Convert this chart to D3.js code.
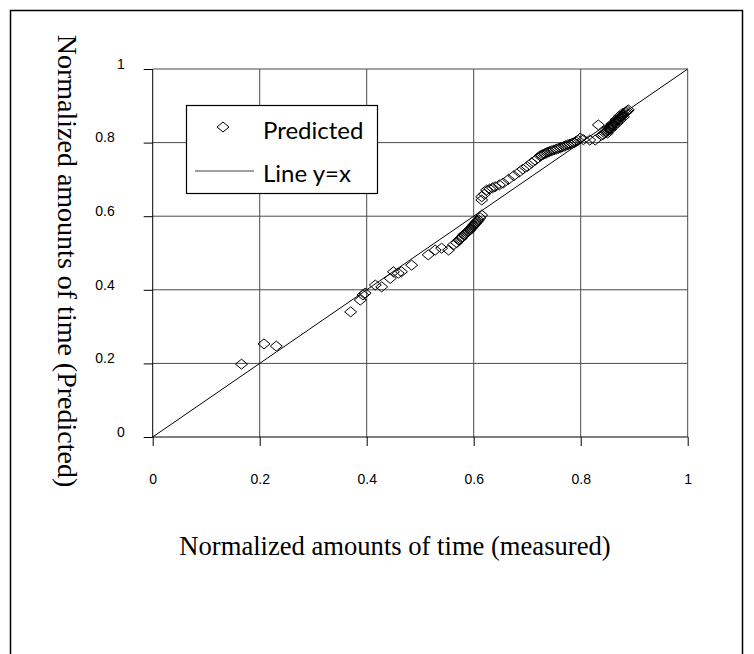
<!DOCTYPE html>
<html>
<head>
<meta charset="utf-8">
<script src="https://cdn.jsdelivr.net/npm/d3@7"></script>
<style>
  body { margin: 0; background: #fff; }
  svg { display: block; }
</style>
</head>
<body>
<div id="chart"></div>
<script>
// data: [measured, predicted] //
const predictedData = [
  [0.166, 0.198], [0.208, 0.253], [0.231, 0.247], [0.370, 0.340],
  [0.388, 0.372], [0.393, 0.386], [0.397, 0.391],
  [0.416, 0.413], [0.428, 0.408], [0.444, 0.431], [0.450, 0.449],
  [0.459, 0.445], [0.465, 0.449], [0.484, 0.467],
  [0.515, 0.495], [0.528, 0.508], [0.540, 0.513], [0.553, 0.508],
  [0.562, 0.522], [0.568, 0.528],
  [0.572, 0.535], [0.575, 0.538], [0.577, 0.541], [0.579, 0.545],
  [0.581, 0.549], [0.583, 0.550], [0.585, 0.553], [0.587, 0.556],
  [0.589, 0.558], [0.591, 0.560], [0.593, 0.563], [0.594, 0.566],
  [0.596, 0.568], [0.597, 0.571], [0.599, 0.573], [0.600, 0.576],
  [0.601, 0.578], [0.603, 0.580], [0.604, 0.582], [0.605, 0.584],
  [0.607, 0.587], [0.609, 0.590], [0.612, 0.596], [0.615, 0.603],
  [0.615, 0.644], [0.615, 0.653], [0.620, 0.660], [0.624, 0.671],
  [0.630, 0.674], [0.635, 0.677], [0.640, 0.680], [0.648, 0.685],
  [0.655, 0.690], [0.665, 0.700], [0.675, 0.710], [0.685, 0.720],
  [0.692, 0.728], [0.700, 0.735], [0.708, 0.745], [0.715, 0.752],
  [0.720, 0.758], [0.724, 0.764], [0.727, 0.766], [0.730, 0.768],
  [0.733, 0.770], [0.736, 0.772], [0.739, 0.774], [0.742, 0.776],
  [0.746, 0.778], [0.750, 0.780], [0.754, 0.782], [0.758, 0.784],
  [0.762, 0.786], [0.765, 0.788], [0.769, 0.790], [0.772, 0.792],
  [0.776, 0.794], [0.780, 0.796], [0.784, 0.798], [0.788, 0.800],
  [0.791, 0.803], [0.795, 0.806], [0.799, 0.812], [0.805, 0.808],
  [0.817, 0.807], [0.827, 0.807], [0.833, 0.848], [0.839, 0.820],
  [0.842, 0.822], [0.845, 0.826], [0.847, 0.829], [0.849, 0.831],
  [0.851, 0.834], [0.853, 0.837], [0.855, 0.840], [0.856, 0.843],
  [0.858, 0.846], [0.860, 0.848], [0.862, 0.851], [0.864, 0.854],
  [0.865, 0.856], [0.867, 0.859], [0.869, 0.862], [0.871, 0.864],
  [0.873, 0.867], [0.875, 0.870], [0.877, 0.872], [0.879, 0.875],
  [0.881, 0.878], [0.883, 0.881], [0.885, 0.883], [0.887, 0.886],
  [0.889, 0.889], [0.850, 0.826], [0.856, 0.836], [0.862, 0.845],
  [0.868, 0.853], [0.874, 0.862], [0.880, 0.870], [0.852, 0.840],
  [0.858, 0.850], [0.866, 0.862], [0.872, 0.871], [0.878, 0.879]
];
const tickValues = [0, 0.2, 0.4, 0.6, 0.8, 1];
const tickLabels = ["0", "0.2", "0.4", "0.6", "0.8", "1"];
const legendLabels = ["Predicted", "Line y=x"];

///set dimensions//////////////////////////////////////////////////
const W = 754, H = 654;
const svg = d3.select("#chart").append("svg")
  .attr("width", W)
  .attr("height", H);

// outer frame
svg.append("rect")
  .attr("x", 10.5).attr("y", 10.5)
  .attr("width", 732).attr("height", 700)
  .attr("fill", "none")
  .attr("stroke", "#000")
  .attr("stroke-width", 1.5);

const x = d3.scaleLinear().domain([0, 1]).range([152.7, 687.7]);
const y = d3.scaleLinear().domain([0, 1]).range([437, 69]);

// gridlines
svg.append("g").selectAll("line")
  .data(tickValues.slice(1))
  .join("line")
  .attr("x1", d => x(d)).attr("x2", d => x(d))
  .attr("y1", y(0)).attr("y2", y(1))
  .attr("stroke", "#4a4a4a").attr("stroke-width", 1);

svg.append("g").selectAll("line")
  .data(tickValues.slice(1))
  .join("line")
  .attr("x1", x(0)).attr("x2", x(1))
  .attr("y1", d => y(d)).attr("y2", d => y(d))
  .attr("stroke", "#4a4a4a").attr("stroke-width", 1);

// Add X axis
const xAxis = svg.append("g")
  .attr("transform", `translate(0,${y(0)})`)
  .call(d3.axisBottom(x).tickValues(tickValues).tickSize(9).tickPadding(28)
    .tickFormat((d, i) => tickLabels[i]));
xAxis.select(".domain").attr("stroke", "#000").attr("d", `M${x(0)},0H${x(1)}`);
xAxis.selectAll(".tick line").attr("stroke", "#000");
xAxis.selectAll(".tick text")
  .attr("font-family", "'Liberation Sans', Arial, sans-serif")
  .attr("font-size", 14)
  .attr("fill", "#000");

// Add Y axis
const yAxis = svg.append("g")
  .attr("transform", `translate(${x(0)},0)`)
  .call(d3.axisLeft(y).tickValues(tickValues).tickSize(9).tickPadding(0)
    .tickFormat((d, i) => tickLabels[i]));
yAxis.select(".domain").attr("stroke", "#000").attr("d", `M0,${y(0)}V${y(1)}`);
yAxis.selectAll(".tick line").attr("stroke", "#000");
yAxis.selectAll(".tick text")
  .attr("font-family", "'Liberation Sans', Arial, sans-serif")
  .attr("font-size", 14)
  .attr("fill", "#000")
  .attr("x", (d, i) => tickLabels[i].length === 1 ? -28 : -38)
  .attr("dy", "-0.05em");

// line y = x
svg.append("line")
  .attr("x1", x(0)).attr("y1", y(0))
  .attr("x2", x(1)).attr("y2", y(1))
  .attr("stroke", "#000").attr("stroke-width", 1);

// diamond marker
function diamond(cx, cy) {
  return `M${cx},${cy - 5}L${cx + 6},${cy}L${cx},${cy + 5}L${cx - 6},${cy}Z`;
}

svg.append("g").selectAll("path")
  .data(predictedData)
  .join("path")
  .attr("d", d => diamond(x(d[0]), y(d[1])))
  .attr("fill", "none")
  .attr("stroke", "#000")
  .attr("stroke-width", 1);

// legend
const legend = svg.append("g");
legend.append("rect")
  .attr("x", 186.5).attr("y", 105.5)
  .attr("width", 191).attr("height", 88)
  .attr("fill", "#fff")
  .attr("stroke", "#000").attr("stroke-width", 1.2);
legend.append("path")
  .attr("d", diamond(223, 127))
  .attr("fill", "none").attr("stroke", "#000");
legend.append("line")
  .attr("x1", 195).attr("x2", 254)
  .attr("y1", 171).attr("y2", 171)
  .attr("stroke", "#808080").attr("stroke-width", 1.5);
legend.selectAll("text")
  .data(legendLabels)
  .join("text")
  .attr("x", 263)
  .attr("y", (d, i) => i === 0 ? 139 : 182)
  .attr("font-family", "Lato, 'Open Sans', sans-serif")
  .attr("font-size", 24)
  .attr("fill", "#000")
  .text(d => d);

// axis titles
svg.append("text")
  .attr("x", 395).attr("y", 555)
  .attr("text-anchor", "middle")
  .attr("font-family", "'Liberation Serif', 'Times New Roman', serif")
  .attr("font-size", 26.6)
  .text("Normalized amounts of time (measured)");

svg.append("text")
  .attr("text-anchor", "middle")
  .attr("transform", "translate(58,261) rotate(90)")
  .attr("font-family", "'Liberation Serif', 'Times New Roman', serif")
  .attr("font-size", 28)
  .text("Normalized amounts of time (Predicted)");
</script>
</body>
</html>
